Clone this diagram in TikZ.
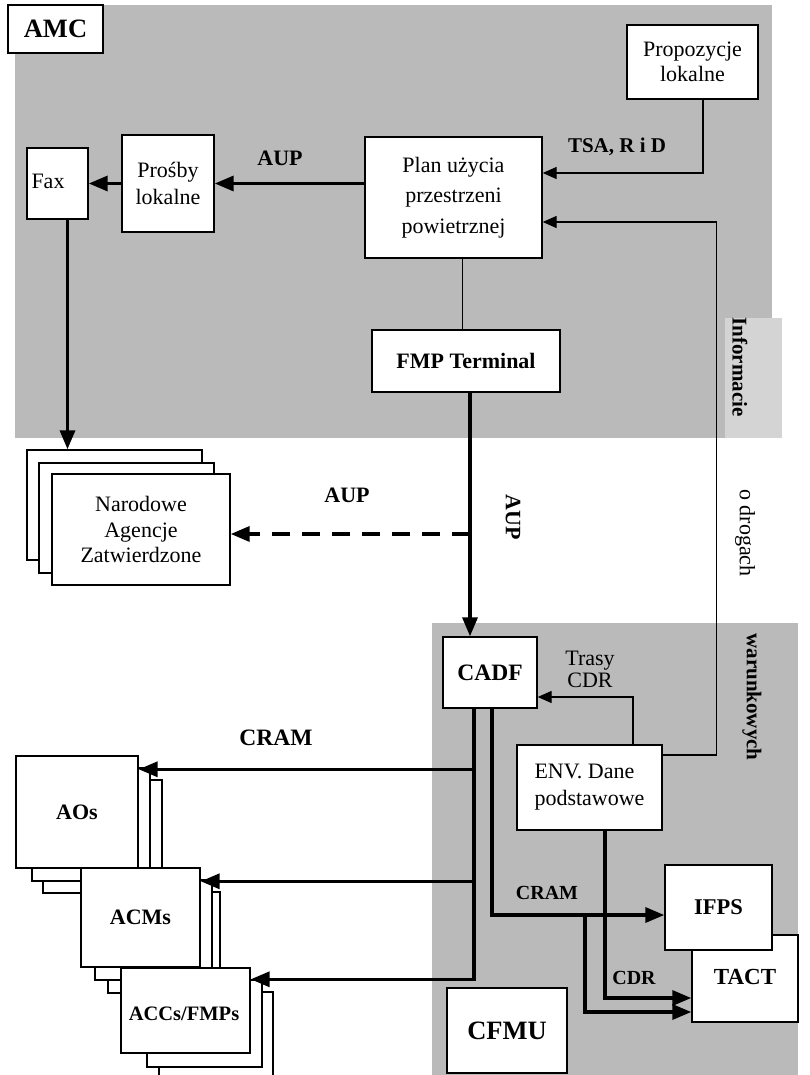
\documentclass[tikz,border=0pt]{standalone}
\usepackage{fontspec}
\setmainfont{Liberation Serif}
\usetikzlibrary{arrows.meta,calc}
\definecolor{bggray}{RGB}{186,186,186}
\definecolor{lightbg}{RGB}{212,212,212}
\newcommand{\dnorm}{\fontsize{22}{27}\selectfont}
\newcommand{\dbold}{\fontsize{22}{26}\selectfont\bfseries}
\newcommand{\dbig}{\fontsize{26.5}{30}\selectfont\bfseries}
\begin{document}
\begin{tikzpicture}[x=1pt,y=-1pt,
  box/.style={draw, fill=white, line width=1.4pt, inner sep=0pt, align=center, font=\dnorm},
  bbox/.style={box, font=\dbold},
  lbl/.style={inner sep=0pt, align=center, font=\dbold},
  tip/.style={-{Triangle[length=19pt,width=15pt]}},
  thk/.style={line width=3.4pt, tip},
  thn/.style={line width=1.4pt},
  thnarr/.style={line width=1.4pt, -{Triangle[length=14pt,width=12pt]}},
  dsh/.style={line width=3.4pt, dash pattern=on 18pt off 12pt, tip}]
\useasboundingbox (0,0) rectangle (809,1075);
% backgrounds
\fill[bggray] (15,5) rectangle (772,438);
\fill[lightbg] (725,318) rectangle (782,438);
\fill[bggray] (432,623) rectangle (798,1075);

% AMC region
\node[box, font=\dbig, minimum width=95, minimum height=48] (amc) at (55.5,29) {AMC};
\node[box, minimum width=61, minimum height=71] (fax) at (57.5,183.5) {};
\node[inner sep=0pt, font=\dnorm] (faxt) at (48,181) {Fax};
\node[box, minimum width=92, minimum height=97] (pros) at (168,183.5) {Prośby\\lokalne};
\node[box, font=\fontsize{22}{30.5}\selectfont, minimum width=177, minimum height=121] (plan) at (453.5,197.5) {Plan użycia\\przestrzeni\\powietrznej};
\node[box, font=\fontsize{22}{25}\selectfont, minimum width=131, minimum height=74] (prop) at (692.5,62) {Propozycje\\lokalne};
\node[bbox, minimum width=188, minimum height=62] (fmp) at (466,361) {FMP Terminal};

% Narodowe stack
\node[box, minimum width=175, minimum height=110] (nar3) at (114.5,505) {};
\node[box, minimum width=175, minimum height=110] (nar2) at (126.5,518) {};
\node[box, font=\fontsize{22}{25.5}\selectfont, minimum width=178, minimum height=111] (nar1) at (141,529.5) {Narodowe\\Agencje\\Zatwierdzone};

% CFMU region
\node[bbox, font=\fontsize{23.5}{26}\selectfont\bfseries, minimum width=94, minimum height=71] (cadf) at (490,672.5) {CADF};
\node[box, minimum width=145, minimum height=85, align=left] (env) at (589.5,787.5) {ENV. Dane\\podstawowe};
\node[bbox, minimum width=106, minimum height=87] (tact) at (745,978.5) {};
\node[lbl, font=\fontsize{23}{26}\selectfont\bfseries] (tactt) at (745,977) {TACT};
\node[bbox, font=\fontsize{22.5}{26}\selectfont\bfseries, minimum width=107, minimum height=85] (ifps) at (718.5,907.5) {IFPS};
\node[box, font=\dbig, minimum width=120, minimum height=85] (cfmu) at (507,1030.5) {CFMU};

% AOs stack
\node[box, minimum width=119, minimum height=113] (aos3) at (102.5,836.5) {};
\node[box, minimum width=118, minimum height=113] (aos2) at (91,824.5) {};
\node[bbox, minimum width=122, minimum height=112] (aos1) at (77,812) {AOs};
% ACMs stack
\node[box, minimum width=112, minimum height=101] (acm3) at (164,942.5) {};
\node[box, minimum width=117, minimum height=100] (acm2) at (153.5,930) {};
\node[bbox, minimum width=119, minimum height=99] (acm1) at (140.5,917.5) {ACMs};
% ACCs stack
\node[box, minimum width=114, minimum height=103] (acc3) at (216,1043.5) {};
\node[box, minimum width=115, minimum height=87] (acc2) at (204.5,1023.5) {};
\node[box, minimum width=129, minimum height=85] (acc1) at (185.5,1010.5) {};
\node[lbl, font=\fontsize{20.5}{24}\selectfont\bfseries] (acct) at (184,1014) {ACCs/FMPs};

% labels
\node[lbl] (laup1) at (280,158) {AUP};
\node[lbl, font=\fontsize{21}{24}\selectfont\bfseries] (ltsa) at (617,147) {TSA, R i D};
\node[lbl] (laup2) at (347,495) {AUP};
\node[lbl, rotate=-90] (laup3) at (513,517) {AUP};
\node[lbl, font=\fontsize{23.5}{26}\selectfont\bfseries] (lcram) at (276,738) {CRAM};
\node[lbl, font=\fontsize{20}{24}\selectfont\bfseries] (lcram2) at (547,893) {CRAM};
\node[lbl, font=\fontsize{20}{24}\selectfont\bfseries] (lcdr) at (634,978) {CDR};
\node[inner sep=0pt, align=center, font=\fontsize{22}{22}\selectfont] (ltrasy) at (590,669) {Trasy\\CDR};
\node[lbl, rotate=-90, font=\fontsize{21}{24}\selectfont\bfseries] (linf) at (740,367) {Informacie};
\node[inner sep=0pt, rotate=-90, font=\fontsize{22}{24}\selectfont] (lodr) at (745,533) {o drogach};
\node[lbl, rotate=-90, font=\fontsize{21}{24}\selectfont\bfseries] (lwar) at (752,697) {warunkowych};

% connectors
\draw[thk] (plan.west |- pros.east) -- (pros.east);
\draw[thk] (pros.west) -- (fax.east);
\draw[thk] ([xshift=10]fax.south) -- ([xshift=10]fax.south |- nar3.north);
\draw[thnarr] ([xshift=10.5]prop.south) |- ($(plan.east)+(0,-24.5)$);
\draw[thnarr] ($(env.east)+(0,-32.5)$) -| ($(plan.east)+(174,24.5)$) -- ($(plan.east)+(0,24.5)$);
\draw[thn] ([xshift=9]plan.south) -- ([xshift=9]plan.south |- fmp.north);
\draw[thk] ([xshift=4]fmp.south) -- ([xshift=-20]cadf.north);
\coordinate (aupj) at ($([xshift=4]fmp.south)!0.58!([xshift=-20]cadf.north)$);
\draw[dsh] (aupj) -- (nar1.east |- aupj);
\draw[thnarr] ([xshift=43.5]env.north) |- ($(cadf.east)+(0,24.5)$);

% CADF outputs
\coordinate (cv) at ([xshift=-16]cadf.south);
\coordinate (aoin) at ($(aos1.north east)+(0,14)$);
\coordinate (acmin) at ($(acm1.north east)+(0,14)$);
\coordinate (accin) at ($(acc1.north east)+(0,12)$);
\draw[thk] (cv) |- (accin);
\draw[thk] (cv |- aoin) -- (aoin);
\draw[thk] (cv |- acmin) -- (acmin);
\coordinate (ifpsin) at ($(ifps.west)+(0,7.5)$);
\draw[thk] ([xshift=2]cadf.south) |- (ifpsin);
\coordinate (cb) at ($([xshift=2]cadf.south |- ifpsin)+(93,0)$);
\draw[thk] (cb) |- ($(tact.west)+(0,33.5)$);
\draw[thk] ([xshift=15.5]env.south) |- ($(tact.west)+(0,19.5)$);
\end{tikzpicture}
\end{document}
